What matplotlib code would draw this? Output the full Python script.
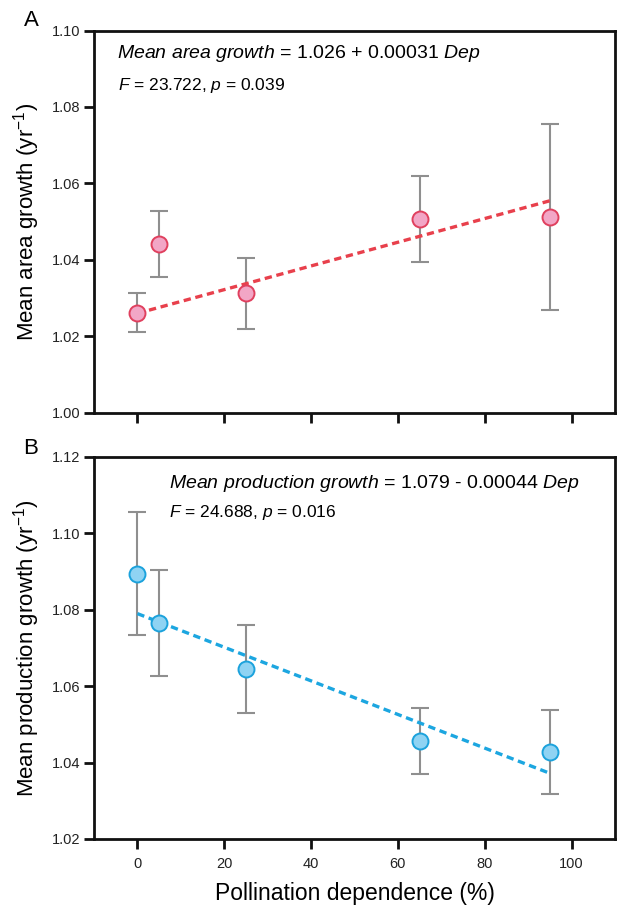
import matplotlib
matplotlib.use("Agg")
import matplotlib.pyplot as plt
import numpy as np

plt.rcParams['font.family'] = ['Liberation Sans', 'DejaVu Sans']
plt.rcParams['mathtext.fontset'] = 'custom'
plt.rcParams['mathtext.rm'] = 'Liberation Sans'
plt.rcParams['mathtext.it'] = 'Liberation Sans:italic'
plt.rcParams['mathtext.bf'] = 'Liberation Sans:bold'

# ---- data ----
dependence = [0, 5, 25, 65, 95]

area_mean = [1.0262, 1.0442, 1.0312, 1.0507, 1.0512]
area_err = [0.0051, 0.0086, 0.0093, 0.0113, 0.0244]
area_intercept = 1.026
area_slope = 0.00031

prod_mean = [1.0894, 1.0765, 1.0645, 1.0457, 1.0428]
prod_err = [0.0161, 0.0138, 0.0115, 0.0087, 0.0110]
prod_intercept = 1.079
prod_slope = -0.00044

fit_range = [0, 95]
xticks = [0, 20, 40, 60, 80, 100]
area_yticks = [1.00, 1.02, 1.04, 1.06, 1.08, 1.10]
prod_yticks = [1.02, 1.04, 1.06, 1.08, 1.10, 1.12]

W, H = 617, 907
fig = plt.figure(figsize=(W / 100, H / 100), dpi=100)

def px_axes(left, top, right, bottom):
    return fig.add_axes([left / W, 1 - bottom / H, (right - left) / W, (bottom - top) / H])

axA = px_axes(94, 30.5, 615, 412.7)
axB = px_axes(94, 457, 615, 839)

def style(ax, yticks, show_xlabels):
    ax.set_xlim(-10, 110)
    ax.set_ylim(yticks[0], yticks[-1])
    ax.set_xticks(xticks)
    ax.set_yticks(yticks)
    ax.set_yticklabels([f"{v:.2f}" for v in yticks])
    for s in ax.spines.values():
        s.set_linewidth(2.0)
        s.set_color('#111111')
    ax.tick_params(axis='both', direction='out', length=7, width=2.0, color='#111111',
                   labelsize=10.5, labelcolor='#222222')
    ax.tick_params(axis='x', pad=6)
    ax.tick_params(axis='y', pad=3)
    if not show_xlabels:
        ax.tick_params(axis='x', labelbottom=False)

def panel(ax, means, errs, intercept, slope, fill, edge, linecol):
    ax.errorbar(dependence, means, yerr=errs, fmt='none', ecolor='#8f8f8f',
                elinewidth=1.5, capsize=6.5, capthick=1.5, zorder=2)
    xs = np.array(fit_range, dtype=float)
    ax.plot(xs, intercept + slope * xs, color=linecol, lw=2.4,
            dashes=(2.2, 1.4), zorder=3)
    ax.plot(dependence, means, 'o', ms=11.5, mfc=fill, mec=edge, mew=1.4, zorder=4)

panel(axA, area_mean, area_err, area_intercept, area_slope,
      '#f2a6c6', '#e0405e', '#e8404c')
panel(axB, prod_mean, prod_err, prod_intercept, prod_slope,
      '#8fd3f3', '#1ba2dc', '#1ca6e0')

style(axA, area_yticks, False)
style(axB, prod_yticks, True)

axA.set_ylabel('Mean area growth (yr$^{-1}$)', fontsize=16, labelpad=7)
axB.set_ylabel('Mean production growth (yr$^{-1}$)', fontsize=16, labelpad=7)
axB.set_xlabel('Pollination dependence (%)', fontsize=16.5, labelpad=8)

axA.text(0.044, 0.939, r'$\mathit{Mean\ area\ growth}$ = 1.026 + 0.00031 $\mathit{Dep}$',
         transform=axA.transAxes, fontsize=14, va='center', ha='left')
axA.text(0.046, 0.856, r'$\mathit{F}$ = 23.722, $\mathit{p}$ = 0.039',
         transform=axA.transAxes, fontsize=12.5, va='center', ha='left')
axB.text(0.143, 0.930, r'$\mathit{Mean\ production\ growth}$ = 1.079 - 0.00044 $\mathit{Dep}$',
         transform=axB.transAxes, fontsize=14, va='center', ha='left')
axB.text(0.143, 0.856, r'$\mathit{F}$ = 24.688, $\mathit{p}$ = 0.016',
         transform=axB.transAxes, fontsize=12.5, va='center', ha='left')

fig.text(31 / W, 1 - 21 / H, 'A', fontsize=16, ha='center', va='center')
fig.text(31 / W, 1 - 448 / H, 'B', fontsize=16, ha='center', va='center')

fig.savefig('out.png', dpi=100, facecolor='white')
